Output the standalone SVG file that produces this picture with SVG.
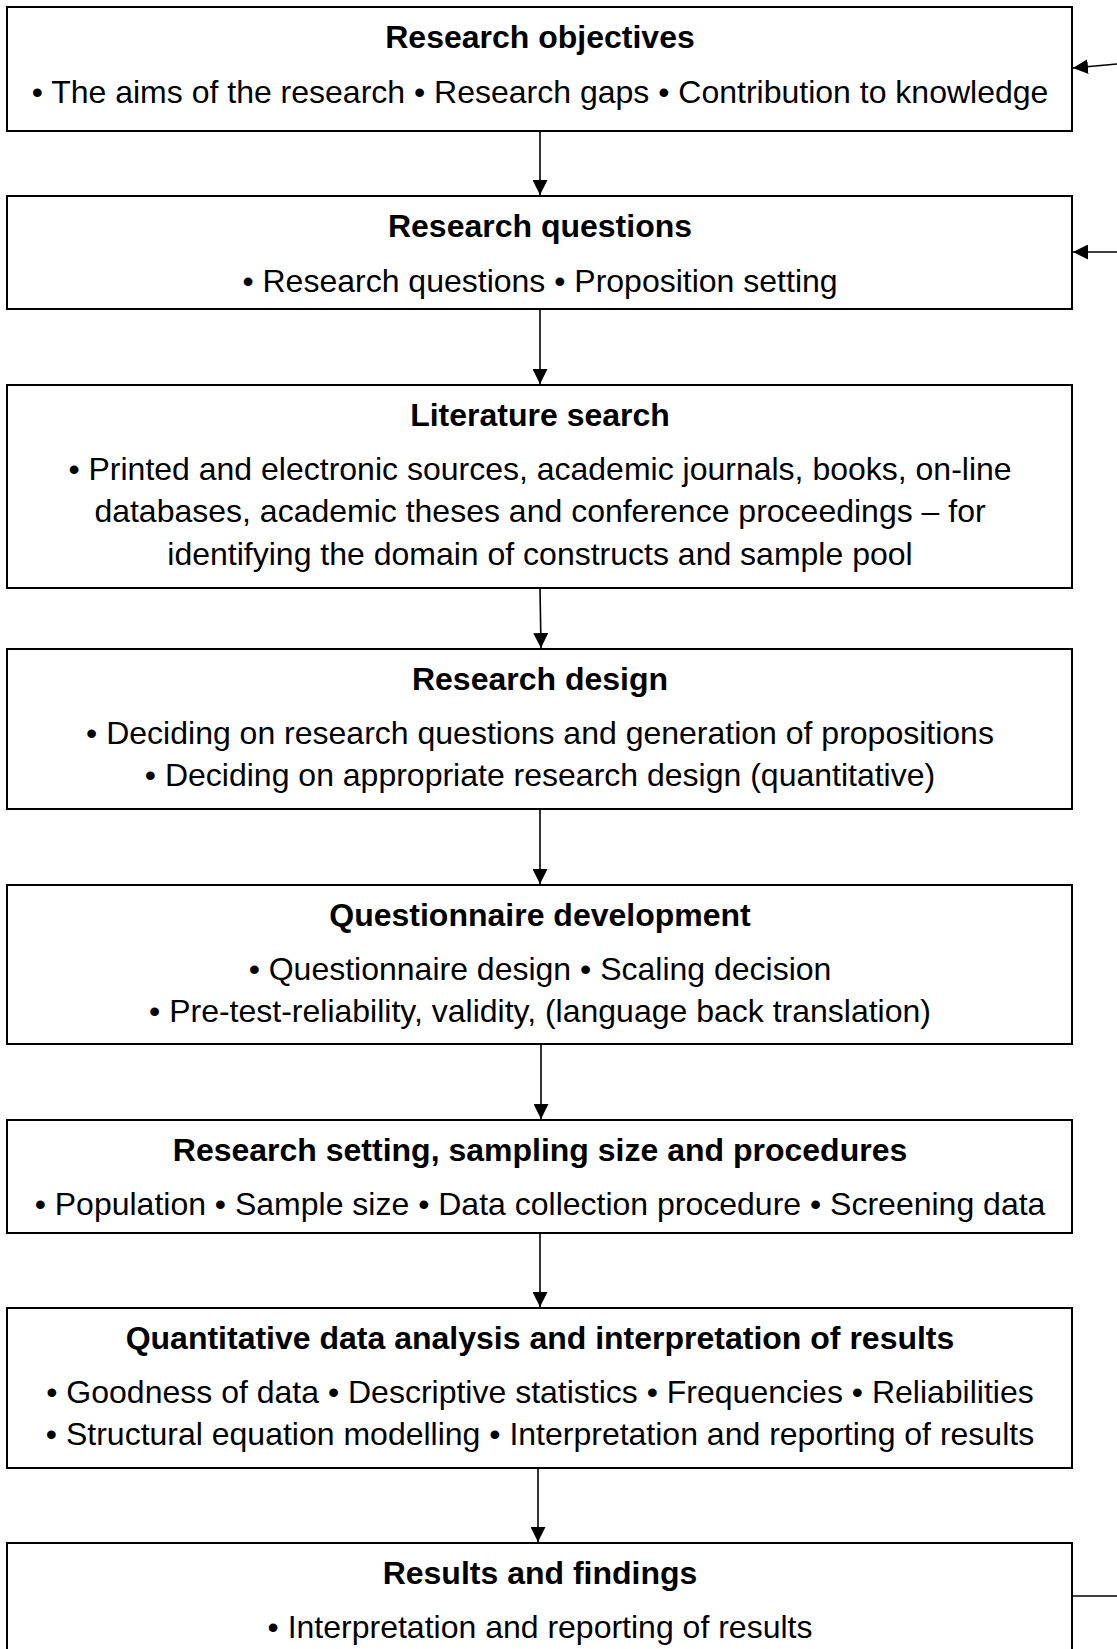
<svg xmlns="http://www.w3.org/2000/svg" width="1117" height="1649" viewBox="0 0 1117 1649">
<defs>
<marker id="ah" viewBox="0 0 10 10" refX="10" refY="5" markerWidth="15" markerHeight="15" markerUnits="userSpaceOnUse" orient="auto">
<path d="M0,0 L10,5 L0,10 Z" fill="#000"/>
</marker>
<style>
.box{fill:#fff;stroke:#000;stroke-width:2}
.t{font-family:"Liberation Sans",Arial,sans-serif;font-size:32px;font-weight:bold;text-anchor:middle;fill:#000}
.b{font-family:"Liberation Sans",Arial,sans-serif;font-size:32px;text-anchor:middle;fill:#000}
.c{stroke:#000;stroke-width:1.6;fill:none}
</style>
</defs>
<rect width="1117" height="1649" fill="#fff"/>
<g id="n1"><rect class="box" x="7" y="7" width="1065" height="124"/>
<text class="t" x="540" y="48">Research objectives</text>
<text class="b" x="540" y="103">• The aims of the research • Research gaps • Contribution to knowledge</text></g>
<g id="n2"><rect class="box" x="7" y="196" width="1065" height="113"/>
<text class="t" x="540" y="237">Research questions</text>
<text class="b" x="540" y="292">• Research questions • Proposition setting</text></g>
<g id="n3"><rect class="box" x="7" y="385" width="1065" height="203"/>
<text class="t" x="540" y="426">Literature search</text>
<text class="b" x="540" y="480">• Printed and electronic sources, academic journals, books, on-line</text>
<text class="b" x="540" y="522">databases, academic theses and conference proceedings – for</text>
<text class="b" x="540" y="565">identifying the domain of constructs and sample pool</text></g>
<g id="n4"><rect class="box" x="7" y="649" width="1065" height="160"/>
<text class="t" x="540" y="690">Research design</text>
<text class="b" x="540" y="744">• Deciding on research questions and generation of propositions</text>
<text class="b" x="540" y="786">• Deciding on appropriate research design (quantitative)</text></g>
<g id="n5"><rect class="box" x="7" y="885" width="1065" height="159"/>
<text class="t" x="540" y="926">Questionnaire development</text>
<text class="b" x="540" y="980">• Questionnaire design • Scaling decision</text>
<text class="b" x="540" y="1022">• Pre-test-reliability, validity, (language back translation)</text></g>
<g id="n6"><rect class="box" x="7" y="1120" width="1065" height="113"/>
<text class="t" x="540" y="1161">Research setting, sampling size and procedures</text>
<text class="b" x="540" y="1215">• Population • Sample size • Data collection procedure • Screening data</text></g>
<g id="n7"><rect class="box" x="7" y="1308" width="1065" height="160"/>
<text class="t" x="540" y="1349">Quantitative data analysis and interpretation of results</text>
<text class="b" x="540" y="1403">• Goodness of data • Descriptive statistics • Frequencies • Reliabilities</text>
<text class="b" x="540" y="1445">• Structural equation modelling • Interpretation and reporting of results</text></g>
<g id="n8"><rect class="box" x="7" y="1543" width="1065" height="130"/>
<text class="t" x="540" y="1584">Results and findings</text>
<text class="b" x="540" y="1638">• Interpretation and reporting of results</text></g>
<g id="connectors">
<line class="c" x1="540" y1="131" x2="540" y2="195" marker-end="url(#ah)"/>
<line class="c" x1="540" y1="309" x2="540" y2="384" marker-end="url(#ah)"/>
<line class="c" x1="540" y1="588" x2="541" y2="648" marker-end="url(#ah)"/>
<line class="c" x1="540" y1="809" x2="540" y2="884" marker-end="url(#ah)"/>
<line class="c" x1="541" y1="1044" x2="541" y2="1119" marker-end="url(#ah)"/>
<line class="c" x1="540" y1="1233" x2="540" y2="1307" marker-end="url(#ah)"/>
<line class="c" x1="538" y1="1468" x2="538" y2="1542" marker-end="url(#ah)"/>
<line class="c" x1="1117" y1="64" x2="1073" y2="68" marker-end="url(#ah)"/>
<line class="c" x1="1117" y1="252" x2="1073" y2="252" marker-end="url(#ah)"/>
<line class="c" x1="1073" y1="1596" x2="1117" y2="1596"/>
</g>
</svg>
